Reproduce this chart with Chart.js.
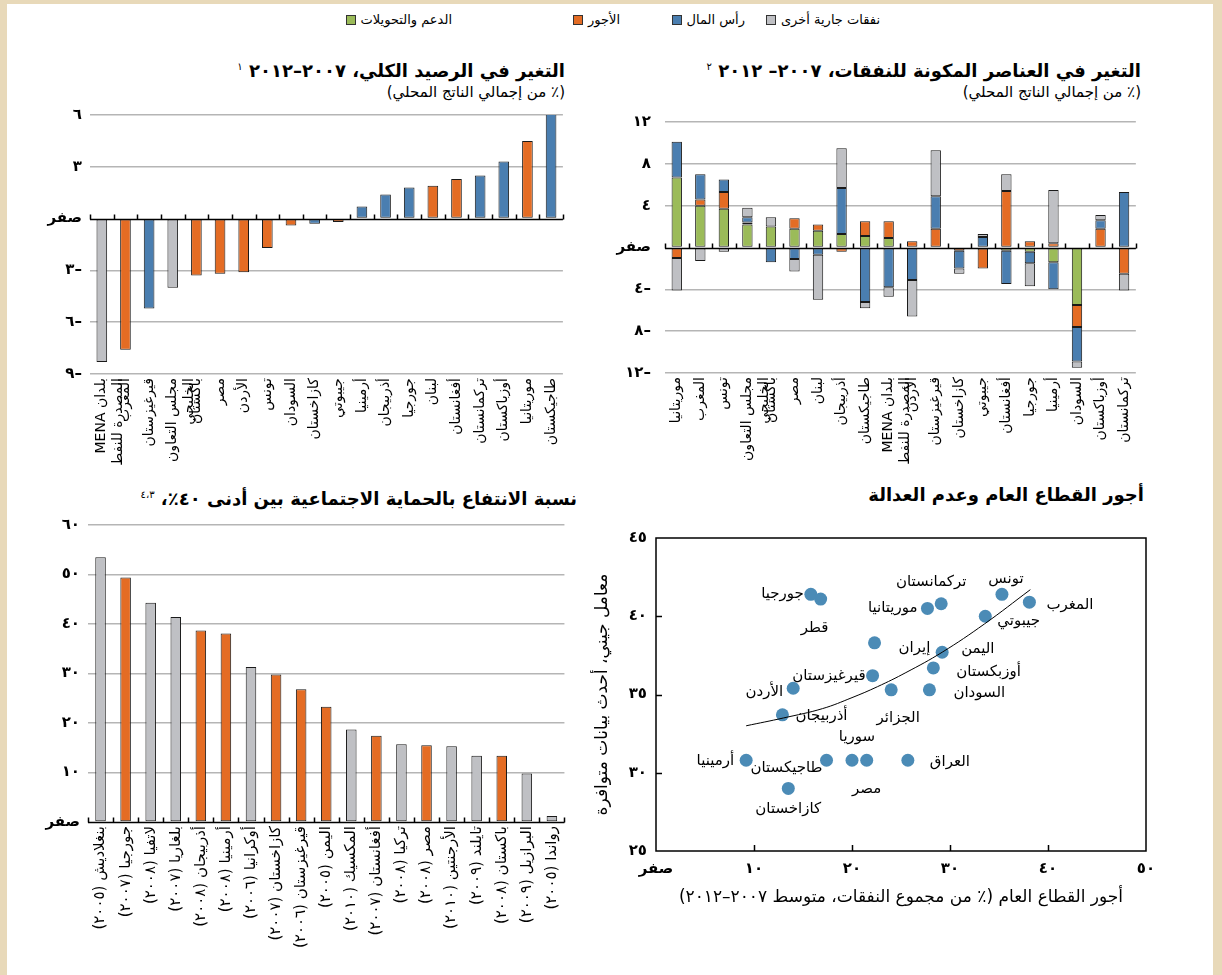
<!DOCTYPE html>
<html lang="ar">
<head>
<meta charset="utf-8">
<script src="https://cdn.jsdelivr.net/npm/chart.js@4.4.1/dist/chart.umd.min.js"></script>
<style>
  html, body { margin: 0; padding: 0; }
  body { width: 1222px; height: 975px; background: #e8d9b9; position: relative; overflow: hidden;
         font-family: "DejaVu Sans", sans-serif; color: #000; }
  #sheet { position: absolute; left: 7px; top: 4px; width: 1206px; height: 975px; background: #fff; }
  canvas { position: absolute; direction: rtl; }
  .ttl { position: absolute; direction: rtl; white-space: nowrap; font-weight: bold; font-size: 18px; line-height: 22px; }
  .ttl sup { font-size: 10px; font-weight: normal; vertical-align: 7px; }
  .sub { position: absolute; direction: rtl; white-space: nowrap; font-size: 15px; line-height: 18px; }
  .leg { position: absolute; direction: rtl; white-space: nowrap; font-size: 13px; line-height: 16px;
         display: flex; align-items: center; gap: 5px; }
  .leg i { display: inline-block; width: 8px; height: 8px; border: 1px solid #333; }
</style>
</head>
<body>
<div id="sheet"></div>

<div class="leg" style="right:342px; top:12px;"><span>نفقات جارية أخرى</span><i style="background:#bfc0c4"></i></div>
<div class="leg" style="right:477px; top:12px;"><span>رأس المال</span><i style="background:#4a7eb0"></i></div>
<div class="leg" style="right:602px; top:12px;"><span>الأجور</span><i style="background:#e46c24"></i></div>
<div class="leg" style="right:770px; top:12px;"><span>الدعم والتحويلات</span><i style="background:#9bbb59"></i></div>

<div class="ttl" style="right:657px; top:56px;">التغير في الرصيد الكلي، ٢٠٠٧–٢٠١٢ <sup>١</sup></div>
<div class="sub" style="right:657px; top:83px;">(٪ من إجمالي الناتج المحلي)</div>
<div class="ttl" style="right:81px; top:56px;">التغير في العناصر المكونة للنفقات، ٢٠٠٧– ٢٠١٢ <sup>٢</sup></div>
<div class="sub" style="right:81px; top:83px;">(٪ من إجمالي الناتج المحلي)</div>
<div class="ttl" style="right:645px; top:484px;">نسبة الانتفاع بالحماية الاجتماعية بين أدنى ٤٠٪، <sup>٤،٣</sup></div>
<div class="ttl" style="right:78px; top:484px;">أجور القطاع العام وعدم العدالة</div>

<canvas id="balanceChart" width="542" height="378" style="left:30px; top:98px;"></canvas>
<canvas id="spendChart" width="550" height="376" style="left:595px; top:99px;"></canvas>
<canvas id="coverageChart" width="544" height="462" style="left:30px; top:508px;"></canvas>
<canvas id="giniChart" width="590" height="400" style="left:575px; top:520px;"></canvas>

<script>
const colors = { green: "#9bbb59", orange: "#e46c24", blue: "#4a7eb0", grey: "#bfc0c4" };

// Change in overall balance, 2007-2012 (% of GDP)
const balanceCountries = [
  ["بلدان MENA", "المصدرة للنفط"], "المغرب", "قيرغيزستان", ["مجلس التعاون", "الخليجي"], "باكستان",
  "مصر", "الأردن", "تونس", "السودان", "كازاخستان", "جيبوتي", "أرمينيا", "أذربيجان", "جورجيا",
  "لبنان", "أفغانستان", "تركمانستان", "أوزباكستان", "موريتانيا", "طاجيكستان"
];
const balanceValues = [-8.3, -7.6, -5.2, -4.0, -3.3, -3.2, -3.1, -1.7, -0.4, -0.3,
  -0.2, 0.7, 1.4, 1.8, 1.9, 2.3, 2.5, 3.3, 4.5, 6.1];
const balanceColors = ["grey", "orange", "blue", "grey", "orange", "orange", "orange", "orange", "orange", "blue",
  "orange", "blue", "blue", "blue", "orange", "orange", "blue", "blue", "orange", "blue"];
const balanceTicks = [-9, -6, -3, 0, 3, 6];
const balanceTickLabels = ["–٩", "–٦", "–٣", "صفر", "٣", "٦"];

// Change in spending components, 2007-2012 (% of GDP)
const spendCountries = [
  "موريتانيا", "المغرب", "تونس", ["مجلس التعاون", "الخليجي"], "باكستان", "مصر", "لبنان", "أذربيجان",
  "طاجيكستان", ["بلدان MENA", "المصدرة للنفط"], "الأردن", "قيرغيزستان", "كازاخستان", "جيبوتي",
  "أفغانستان", "جورجيا", "أرمينيا", "السودان", "أوزباكستان", "تركمانستان"
];
const spendSubsidies = [6.7, 4.0, 3.7, 2.2, 2.0, 1.8, 1.6, 1.3, 1.1, 0.9, null, null, null, -0.1, -0.3, -0.4, -1.4, -5.5, null, null];
const spendWages     = [-1.0, 0.6, 1.6, 0.2, null, 1.0, 0.6, -0.4, 1.4, 1.6, 0.6, 1.8, -0.3, -1.9, 5.4, 0.6, 0.4, -2.1, 1.8, -2.5];
const spendCapital   = [3.4, 2.4, 1.2, 0.5, -1.4, -1.1, -0.7, 4.4, -5.2, -3.8, -3.1, 3.1, -1.7, 1.0, -3.2, -1.1, -2.6, -3.3, 0.8, 5.3];
const spendOther     = [-3.1, -1.3, -0.4, 0.9, 0.9, -1.2, -4.3, 3.8, -0.6, -0.9, -3.5, 4.4, -0.5, 0.3, 1.6, -2.2, 5.1, -0.6, 0.5, -1.6];
const spendSeriesNames = ["الدعم والتحويلات", "الأجور", "رأس المال", "نفقات جارية أخرى"];
const spendTicks = [-12, -8, -4, 0, 4, 8, 12];
const spendTickLabels = ["–١٢", "–٨", "–٤", "صفر", "٤", "٨", "١٢"];

// Social protection coverage among the bottom 40%
const coverageCountries = [
  "بنغلاديش (٢٠٠٥)", "جورجيا (٢٠٠٧)", "لاتفيا (٢٠٠٨)", "بلغاريا (٢٠٠٧)", "أذربيجان (٢٠٠٨)",
  "أرمينيا (٢٠٠٨)", "أوكرانيا (٢٠٠٦)", "كازاخستان (٢٠٠٧)", "قيرغيزستان (٢٠٠٦)", "اليمن (٢٠٠٥)",
  "المكسيك (٢٠١٠)", "أفغانستان (٢٠٠٧)", "تركيا (٢٠٠٨)", "مصر (٢٠٠٨)", "الأرجنتين (٢٠١٠)",
  "تايلند (٢٠٠٩)", "باكستان (٢٠٠٨)", "البرازيل (٢٠٠٩)", "رواندا (٢٠٠٥)"
];
const coverageValues = [53.5, 49.4, 44.3, 41.4, 38.7, 38.1, 31.3, 29.8, 26.8, 23.3,
  18.7, 17.4, 15.7, 15.5, 15.3, 13.4, 13.4, 9.8, 1.2];
const coverageColors = ["grey", "orange", "grey", "grey", "orange", "orange", "grey", "orange", "orange", "orange",
  "grey", "orange", "grey", "orange", "grey", "grey", "orange", "grey", "grey"];
const coverageTicks = [0, 10, 20, 30, 40, 50, 60];
const coverageTickLabels = ["صفر", "١٠", "٢٠", "٣٠", "٤٠", "٥٠", "٦٠"];

// Public sector wages and inequality
const giniNames = ["جورجيا", "قطر", "موريتانيا", "تركمانستان", "تونس", "المغرب", "جيبوتي", "إيران",
  "اليمن", "أوزبكستان", "قيرغيزستان", "الأردن", "الجزائر", "السودان", "أذربيجان", "أرمينيا",
  "طاجيكستان", "سوريا", "مصر", "العراق", "كازاخستان"];
const giniWageShare = [15.8, 16.8, 27.7, 29.1, 35.3, 38.1, 33.6, 22.3, 29.2, 28.3, 22.1,
  14.0, 24.0, 27.9, 12.9, 9.2, 17.4, 20.0, 21.5, 25.7, 13.5];
const giniIndex = [41.4, 41.1, 40.5, 40.8, 41.4, 40.9, 40.0, 38.3, 37.7, 36.7, 36.2,
  35.4, 35.3, 35.3, 33.7, 30.8, 30.8, 30.8, 30.8, 30.8, 29.0];
const giniTrendX = [9.2, 13.0, 17.0, 20.0, 22.6, 25.5, 29.2, 33.5, 38.2];
const giniTrendY = [33.0, 33.5, 34.1, 34.8, 35.5, 36.4, 37.7, 39.5, 41.7];
const giniXTicks = [0, 10, 20, 30, 40, 50];
const giniXTickLabels = ["صفر", "١٠", "٢٠", "٣٠", "٤٠", "٥٠"];
const giniYTicks = [25, 30, 35, 40, 45];
const giniYTickLabels = ["٢٥", "٣٠", "٣٥", "٤٠", "٤٥"];

// where each country name sits relative to its dot: [dx, dy, align]
const giniLabelPlace = [
  [-7, 0, "right"], [-6, 29, "center"], [-10, 0, "right"], [-10, -22, "center"], [4, -15, "center"],
  [17, 3, "left"], [12, 5, "left"], [24, 5, "left"], [19, -3, "left"], [23, 4, "left"],
  [-7, 0, "right"], [-10, 4, "right"], [7, 28, "center"], [24, 3, "left"], [13, 1, "left"],
  [-12, 1, "right"], [-4, 8, "right"], [5, -23, "center"], [0, 29, "center"], [22, 2, "left"],
  [0, 21, "center"]
];

Chart.defaults.font.family = "'DejaVu Sans', sans-serif";
Chart.defaults.color = "#000";
Chart.defaults.animation = false;
Chart.defaults.responsive = false;
Chart.defaults.devicePixelRatio = 1;
Chart.defaults.plugins.legend.display = false;
Chart.defaults.plugins.tooltip.enabled = false;

// black zero line with small marks at the category boundaries
const zeroAxis = {
  id: "zeroAxis",
  afterDatasetsDraw(chart) {
    const { ctx, chartArea, scales } = chart;
    const x = scales.x, y = scales.y;
    const py = Math.round(y.getPixelForValue(0)) + 0.5;
    ctx.save();
    ctx.strokeStyle = "#000";
    ctx.lineWidth = 1.5;
    ctx.beginPath();
    ctx.moveTo(chartArea.left, py);
    ctx.lineTo(chartArea.right, py);
    for (let i = 0; i <= x.ticks.length; i++) {
      const px = Math.round(x.getPixelForValue(i - 0.5)) + 0.5;
      ctx.moveTo(px, py);
      ctx.lineTo(px, py - 5);
    }
    ctx.stroke();
    ctx.restore();
  }
};

function fixedTicks(values, labels) {
  return {
    afterBuildTicks(scale) { scale.ticks = values.map(v => ({ value: v })); },
    ticks: { callback: (v) => labels[values.indexOf(v)] }
  };
}

function barYAxis(values, labels, width, pad) {
  const t = fixedTicks(values, labels);
  return {
    min: values[0],
    max: values[values.length - 1],
    afterBuildTicks: t.afterBuildTicks,
    afterFit(scale) { scale.width = width; },
    border: { display: false },
    grid: {
      drawTicks: false,
      lineWidth: 1.5,
      color: (c) => (c.tick && c.tick.value === 0 ? "rgba(0,0,0,0)" : "#b5b5b5")
    },
    ticks: { callback: t.ticks.callback, padding: pad, font: { size: 15, weight: "bold" } }
  };
}

function barXAxis(height, size) {
  return {
    afterFit(scale) { scale.height = height; },
    border: { display: false },
    grid: { display: false, drawTicks: false },
    ticks: { autoSkip: false, minRotation: 90, maxRotation: 90, padding: 4, font: { size: size } }
  };
}

new Chart(document.getElementById("balanceChart"), {
  type: "bar",
  data: {
    labels: balanceCountries,
    datasets: [{
      data: balanceValues,
      backgroundColor: balanceColors.map(c => colors[c]),
      borderColor: "#1a1a1a",
      borderWidth: 1,
      borderSkipped: false,
      barPercentage: 0.45,
      categoryPercentage: 1
    }]
  },
  options: {
    layout: { autoPadding: false, padding: { top: 10, right: 5, left: 0, bottom: 0 } },
    scales: { x: barXAxis(102, 14), y: barYAxis(balanceTicks, balanceTickLabels, 60, 8) }
  },
  plugins: [zeroAxis]
});

const spendSeries = [spendSubsidies, spendWages, spendCapital, spendOther];
const spendColors = [colors.green, colors.orange, colors.blue, colors.grey];

new Chart(document.getElementById("spendChart"), {
  type: "bar",
  data: {
    labels: spendCountries,
    datasets: spendSeries.map((values, i) => ({
      label: spendSeriesNames[i],
      data: values,
      backgroundColor: spendColors[i],
      borderColor: "#1a1a1a",
      borderWidth: 1,
      borderSkipped: false,
      barPercentage: 0.44,
      categoryPercentage: 1
    }))
  },
  options: {
    layout: { autoPadding: false, padding: { top: 10, right: 5, left: 0, bottom: 0 } },
    scales: {
      x: Object.assign(barXAxis(102, 14), { stacked: true }),
      y: Object.assign(barYAxis(spendTicks, spendTickLabels, 70, 14), { stacked: true })
    }
  },
  plugins: [zeroAxis]
});

new Chart(document.getElementById("coverageChart"), {
  type: "bar",
  data: {
    labels: coverageCountries,
    datasets: [{
      data: coverageValues,
      backgroundColor: coverageColors.map(c => colors[c]),
      borderColor: "#1a1a1a",
      borderWidth: 1,
      borderSkipped: false,
      barPercentage: 0.42,
      categoryPercentage: 1
    }]
  },
  options: {
    layout: { autoPadding: false, padding: { top: 10, right: 4, left: 0, bottom: 0 } },
    scales: { x: barXAxis(148, 15), y: barYAxis(coverageTicks, coverageTickLabels, 58, 8) }
  },
  plugins: [zeroAxis]
});

// box around the scatter plot, tick marks pointing inwards, country names
const giniFrame = {
  id: "giniFrame",
  afterDatasetsDraw(chart) {
    const { ctx, chartArea: a, scales: { x, y } } = chart;
    ctx.save();
    ctx.strokeStyle = "#000";
    ctx.lineWidth = 1.5;
    ctx.strokeRect(a.left, a.top, a.right - a.left, a.bottom - a.top);
    ctx.beginPath();
    giniXTicks.slice(1, -1).forEach(v => {
      const px = Math.round(x.getPixelForValue(v)) + 0.5;
      ctx.moveTo(px, a.bottom);
      ctx.lineTo(px, a.bottom - 6);
    });
    giniYTicks.slice(1, -1).forEach(v => {
      const py = Math.round(y.getPixelForValue(v)) + 0.5;
      ctx.moveTo(a.left, py);
      ctx.lineTo(a.left + 6, py);
    });
    ctx.stroke();

    const pts = chart.getDatasetMeta(1).data;
    ctx.fillStyle = "#000";
    ctx.font = "15px 'DejaVu Sans', sans-serif";
    ctx.textBaseline = "middle";
    pts.forEach((p, i) => {
      const [dx, dy, align] = giniLabelPlace[i];
      ctx.textAlign = align;
      ctx.fillText(giniNames[i], p.x + dx, p.y + dy);
    });
    ctx.restore();
  }
};

const gx = fixedTicks(giniXTicks, giniXTickLabels);
const gy = fixedTicks(giniYTicks, giniYTickLabels);

new Chart(document.getElementById("giniChart"), {
  type: "scatter",
  data: {
    datasets: [
      {
        data: giniTrendX.map((v, i) => ({ x: v, y: giniTrendY[i] })),
        showLine: true,
        tension: 0.4,
        borderColor: "#000",
        borderWidth: 1,
        pointRadius: 0
      },
      {
        data: giniWageShare.map((v, i) => ({ x: v, y: giniIndex[i] })),
        pointRadius: 6.5,
        pointBackgroundColor: "#4b8bb6",
        pointBorderColor: "#4b8bb6",
        pointBorderWidth: 0
      }
    ]
  },
  options: {
    layout: { autoPadding: false, padding: { top: 13, right: 19, left: 0, bottom: 0 } },
    scales: {
      x: {
        type: "linear",
        min: 0, max: 50,
        afterBuildTicks: gx.afterBuildTicks,
        afterFit(scale) { scale.height = 69; },
        border: { display: false },
        grid: { display: false, drawTicks: false },
        ticks: { callback: gx.ticks.callback, padding: 9, font: { size: 15, weight: "bold" } },
        title: {
          display: true,
          text: "أجور القطاع العام (٪ من مجموع النفقات، متوسط ٢٠٠٧–٢٠١٢)",
          font: { size: 17 },
          padding: { top: 12, bottom: 12 }
        }
      },
      y: {
        type: "linear",
        min: 25, max: 45,
        afterBuildTicks: gy.afterBuildTicks,
        afterFit(scale) { scale.width = 81; },
        border: { display: false },
        grid: { display: false, drawTicks: false },
        ticks: { callback: gy.ticks.callback, padding: 9, font: { size: 15, weight: "bold" } },
        title: {
          display: true,
          text: "معامل جيني، أحدث بيانات متوافرة",
          font: { size: 17 },
          padding: { top: 17, bottom: 17 }
        }
      }
    }
  },
  plugins: [giniFrame]
});
</script>
</body>
</html>
